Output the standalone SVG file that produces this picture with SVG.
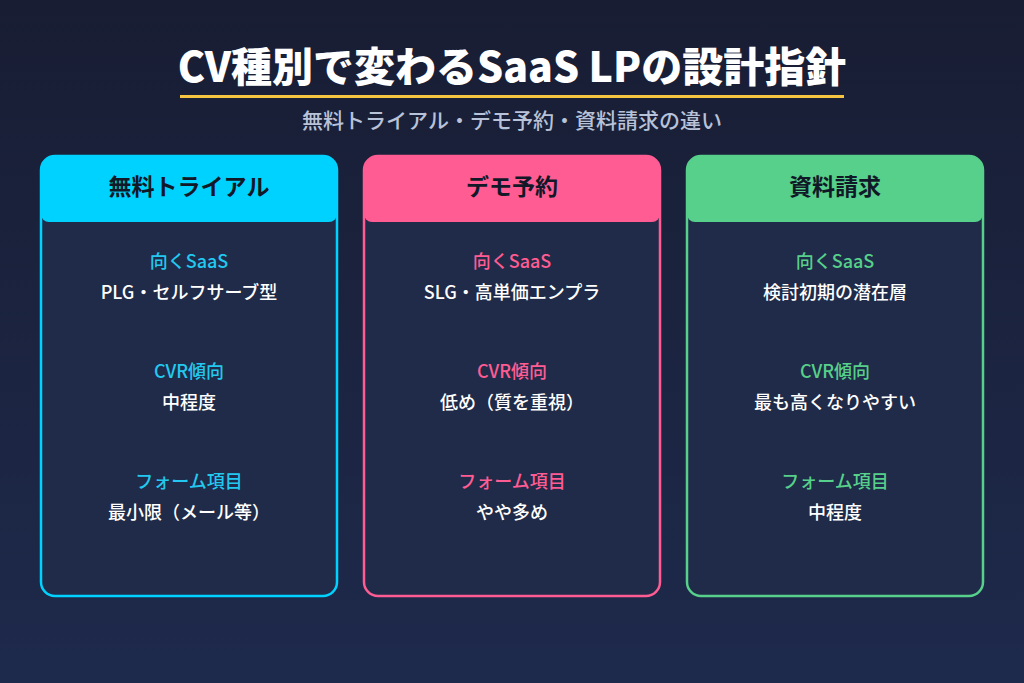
<svg xmlns="http://www.w3.org/2000/svg" width="1024" height="683" viewBox="0 0 1024 683">
<defs>
<linearGradient id="bg" x1="0" y1="0" x2="0" y2="1"><stop offset="0" stop-color="#181d33"/><stop offset="1" stop-color="#1e2a4c"/></linearGradient>
<style>
text{font-family:"Noto Sans CJK JP","Noto Sans",sans-serif;text-anchor:middle}
.body{fill:#1f2b48;stroke-width:2.5}
.hd{font-size:23px;font-weight:700;fill:#111827}
.lb{font-size:18px;font-weight:500}
.vl{font-size:18px;font-weight:500;fill:#ffffff}
</style>
</defs>
<rect width="1024" height="683" fill="url(#bg)"/>
<text x="512" y="82" font-size="41" font-weight="900" fill="#ffffff">CV種別で変わるSaaS LPの設計指針</text>
<rect x="180" y="95" width="664" height="3" fill="#f5c542"/>
<text x="512" y="128" font-size="21" font-weight="500" fill="#b8c2d8">無料トライアル・デモ予約・資料請求の違い</text>
<g id="trial">
<rect class="body" x="41" y="156" width="296" height="440" rx="14" stroke="#00d2ff"/>
<path d="M41,170 a14,14 0 0 1 14,-14 h268 a14,14 0 0 1 14,14 v44 a8,8 0 0 1 -8,8 h-280 a8,8 0 0 1 -8,-8 z" fill="#00d2ff"/>
<text class="hd" x="189" y="195">無料トライアル</text>
<g fill="#22c8f0"><text class="lb" x="189" y="268">向くSaaS</text><text class="lb" x="189" y="378">CVR傾向</text><text class="lb" x="189" y="488">フォーム項目</text></g>
<text class="vl" x="189" y="299">PLG・セルフサーブ型</text>
<text class="vl" x="189" y="409">中程度</text>
<text class="vl" x="189" y="519">最小限（メール等）</text>
</g>
<g id="demo">
<rect class="body" x="364" y="156" width="296" height="440" rx="14" stroke="#ff5c93"/>
<path d="M364,170 a14,14 0 0 1 14,-14 h268 a14,14 0 0 1 14,14 v44 a8,8 0 0 1 -8,8 h-280 a8,8 0 0 1 -8,-8 z" fill="#ff5c93"/>
<text class="hd" x="512" y="195">デモ予約</text>
<g fill="#ff5c93"><text class="lb" x="512" y="268">向くSaaS</text><text class="lb" x="512" y="378">CVR傾向</text><text class="lb" x="512" y="488">フォーム項目</text></g>
<text class="vl" x="512" y="299">SLG・高単価エンプラ</text>
<text class="vl" x="512" y="409">低め（質を重視）</text>
<text class="vl" x="512" y="519">やや多め</text>
</g>
<g id="docs">
<rect class="body" x="687" y="156" width="296" height="440" rx="14" stroke="#56d08a"/>
<path d="M687,170 a14,14 0 0 1 14,-14 h268 a14,14 0 0 1 14,14 v44 a8,8 0 0 1 -8,8 h-280 a8,8 0 0 1 -8,-8 z" fill="#56d08a"/>
<text class="hd" x="835" y="195">資料請求</text>
<g fill="#56d08a"><text class="lb" x="835" y="268">向くSaaS</text><text class="lb" x="835" y="378">CVR傾向</text><text class="lb" x="835" y="488">フォーム項目</text></g>
<text class="vl" x="835" y="299">検討初期の潜在層</text>
<text class="vl" x="835" y="409">最も高くなりやすい</text>
<text class="vl" x="835" y="519">中程度</text>
</g>
<g id="connectors"/>
</svg>
